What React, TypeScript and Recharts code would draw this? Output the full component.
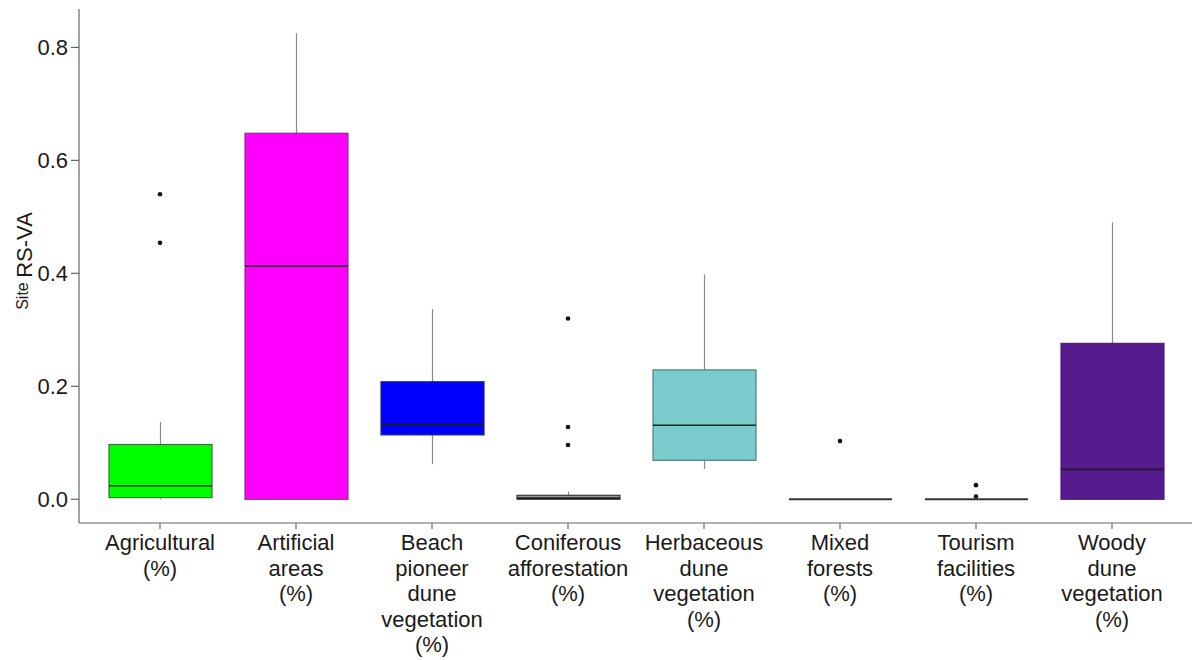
import React from 'react';
import { ComposedChart, Bar, Line, XAxis, YAxis } from 'recharts';

const categories = [
  'Agricultural\n(%)',
  'Artificial\nareas\n(%)',
  'Beach\npioneer\ndune\nvegetation\n(%)',
  'Coniferous\nafforestation\n(%)',
  'Herbaceous\ndune\nvegetation\n(%)',
  'Mixed\nforests\n(%)',
  'Tourism\nfacilities\n(%)',
  'Woody\ndune\nvegetation\n(%)',
];
const mins = [0, 0, 0.062, 0, 0.054, 0, 0, 0];
const q1s = [0.003, 0, 0.114, 0, 0.069, 0, 0, 0];
const medians = [0.024, 0.413, 0.133, 0.002, 0.131, 0, 0, 0.053];
const q3s = [0.097, 0.648, 0.208, 0.007, 0.229, 0, 0, 0.276];
const maxs = [0.137, 0.825, 0.337, 0.014, 0.398, 0, 0, 0.49];
const outliers: number[][] = [[0.54, 0.454], [], [], [0.32, 0.128, 0.096], [], [0.103], [0.025, 0.005], []];
const yTicks = [0, 0.2, 0.4, 0.6, 0.8];

const fills = ['#00ff00', '#ff00ff', '#0000ff', '#999999', '#7bcccc', '#7bcccc', '#7bcccc', '#551a8b'];
const strokes = ['#3d6b3d', '#7a3d7a', '#22227a', '#3a3a3a', '#4f7f7f', '#333', '#333', '#551a8b'];

const rows = categories.map((name, i) => ({
  name,
  min: mins[i],
  q1: q1s[i],
  med: medians[i],
  q3: q3s[i],
  max: maxs[i],
  o1: outliers[i][0] ?? null,
  o2: outliers[i][1] ?? null,
  o3: outliers[i][2] ?? null,
}));

const FONT = '"Liberation Sans", Arial, sans-serif';

const norm = (p: any) => {
  const y = Number(p.y) || 0;
  const h = Number(p.height) || 0;
  return { top: Math.min(y, y + h), h: Math.abs(h) };
};

const WhiskerShape = (p: any) => {
  const { top, h } = norm(p);
  if (h <= 0) return <g />;
  const cx = p.x + p.width / 2;
  return <line x1={cx} x2={cx} y1={top} y2={top + h} stroke="#8a8a8a" strokeWidth={1.2} />;
};

const BoxShape = (p: any) => {
  const { top, h } = norm(p);
  const i = p.index;
  if (h <= 0) return <g />;
  return (
    <rect x={p.x} y={top} width={p.width} height={h} fill={fills[i]} stroke={strokes[i]} strokeWidth={1.2} />
  );
};

const MedianShape = (p: any) => {
  const { top } = norm(p);
  const i = p.index;
  const flat = q1s[i] === q3s[i];
  return (
    <line
      x1={p.x}
      x2={p.x + p.width}
      y1={top}
      y2={top}
      stroke={flat ? '#333' : '#1e1e1e'}
      strokeWidth={flat ? 2 : 1.6}
    />
  );
};

const Dot = (p: any) => {
  if (p.value == null || p.cy == null || isNaN(p.cy)) return <g key={p.key} />;
  return <circle key={p.key} cx={p.cx} cy={p.cy} r={2.3} fill="#111" />;
};

const XTick = (p: any) => {
  const lines = String(p.payload.value).split('\n');
  return (
    <text x={p.x} y={p.y} textAnchor="middle" fill="#1a1a1a" fontSize={22} fontFamily={FONT}>
      {lines.map((l, k) => (
        <tspan key={k} x={p.x} dy={k === 0 ? 19 : 25.6}>
          {l}
        </tspan>
      ))}
    </text>
  );
};

const YTitle = (props: any) => {
  const vb = props.viewBox || { x: 0, y: 9, width: 79, height: 514 };
  const cx = vb.x + 31.5;
  const cy = vb.y + vb.height / 2 - 5;
  return (
    <text
      x={cx}
      y={cy}
      transform={`rotate(-90, ${cx}, ${cy})`}
      textAnchor="middle"
      fill="#1a1a1a"
      fontFamily={FONT}
    >
      <tspan fontSize={16} dy={-4}>Site </tspan>
      <tspan fontSize={22} dy={4}>RS-VA</tspan>
    </text>
  );
};

const pad = { left: 13, right: 12 };

export default function App() {
  return (
    <div style={{ position: 'absolute', left: 0, top: 0, background: '#fff' }}>
      <ComposedChart
        width={1192}
        height={660}
        data={rows}
        margin={{ top: 9, right: 0, bottom: 0, left: 0 }}
      >
        <XAxis
          xAxisId="a"
          dataKey="name"
          type="category"
          padding={pad}
          interval={0}
          height={137}
          tick={<XTick />}
          tickSize={6}
          tickMargin={2}
          axisLine={{ stroke: '#666', strokeWidth: 1.2 }}
          tickLine={{ stroke: '#666', strokeWidth: 1.2 }}
        />
        <XAxis xAxisId="w" dataKey="name" type="category" padding={pad} hide />
        <XAxis xAxisId="m" dataKey="name" type="category" padding={pad} hide />
        <YAxis
          type="number"
          domain={[-0.042, 0.868]}
          ticks={yTicks}
          width={79}
          tickFormatter={(v: number) => v.toFixed(1)}
          tick={{ fontSize: 22, fill: '#1a1a1a', fontFamily: FONT }}
          tickSize={8}
          tickMargin={3}
          axisLine={{ stroke: '#666', strokeWidth: 1.2 }}
          tickLine={{ stroke: '#666', strokeWidth: 1.2 }}
          label={{ content: YTitle }}
        />
        <Bar
          xAxisId="w"
          dataKey={(d: any) => [d.min, d.max]}
          barSize={103}
          shape={WhiskerShape}
          isAnimationActive={false}
        />
        <Bar
          xAxisId="a"
          dataKey={(d: any) => [d.q1, d.q3]}
          barSize={103}
          shape={BoxShape}
          isAnimationActive={false}
        />
        <Bar
          xAxisId="m"
          dataKey={(d: any) => [d.med, d.med]}
          barSize={103}
          shape={MedianShape}
          isAnimationActive={false}
        />
        {['o1', 'o2', 'o3'].map((k) => (
          <Line
            key={k}
            xAxisId="a"
            dataKey={k}
            stroke="none"
            dot={Dot}
            activeDot={false}
            connectNulls={false}
            isAnimationActive={false}
          />
        ))}
      </ComposedChart>
    </div>
  );
}
